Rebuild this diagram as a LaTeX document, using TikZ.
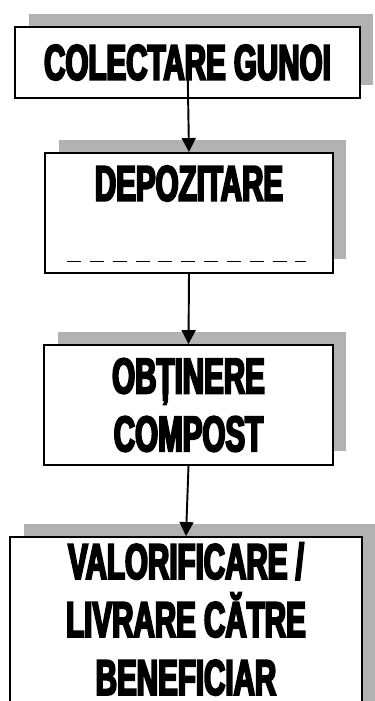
\documentclass[tikz,border=0pt]{standalone}
\usepackage{fontspec}
\usetikzlibrary{arrows.meta,positioning,shadows,calc}
\newfontfamily\boxfont{Liberation Sans}[FakeStretch=0.59,FakeBold=4]
\newcommand\stepfont{\boxfont\bfseries\fontsize{28.5}{33}\selectfont}
\tikzset{
  step box/.style={rectangle, draw=black, line width=1.1pt, fill=white,
                   minimum width=#1, align=center, font=\stepfont,
                   general shadow={shadow xshift=0.27cm, shadow yshift=0.27cm,
                                   fill=gray!60}},
  arrow/.style={-{Triangle[length=0.28cm,width=0.28cm]}, line width=1.1pt},
}
\begin{document}
\begin{tikzpicture}[x=0.02cm, y=-0.02cm]
\useasboundingbox (0,0) rectangle (375,701);

% -------------------- Step 1: collection --------------------
\node[step box=6.9cm, minimum height=1.42cm] (collect) at (187.5,62.5)
    {COLECTARE GUNOI};

% -------------------- Step 2: storage --------------------
\node[step box=5.76cm, minimum height=2.4cm] (store) at (189,213) {};
\node[font=\stepfont, below=0.15cm of store.north] (storetxt) {DEPOZITARE};
\draw[dashed, dash pattern=on 8pt off 5pt, line width=0.6pt]
    ($(store.south west)+(23,-12)$) coordinate (dashl) -- ($(store.south east)+(-28,-12)$);

% -------------------- Step 3: compost --------------------
\node[step box=5.78cm, minimum height=2.4cm] (compost) at (188.5,405)
    {OBȚINERE\\COMPOST};

% -------------------- Step 4: delivery --------------------
\node[step box=7.04cm, minimum height=3.56cm] (deliver) at (186,626) {};
\node[font=\stepfont, align=center] (delivertxt) at ($(deliver.center)+(0,-7)$)
    {VALORIFICARE /\\LIVRARE CĂTRE\\BENEFICIAR};

% -------------------- Arrows --------------------
\draw[arrow] (collect.center) -- (store.north);
\draw[arrow] (store.south) -- (compost.north);
\draw[arrow] (compost.south) -- (deliver.north);

\end{tikzpicture}
\end{document}
